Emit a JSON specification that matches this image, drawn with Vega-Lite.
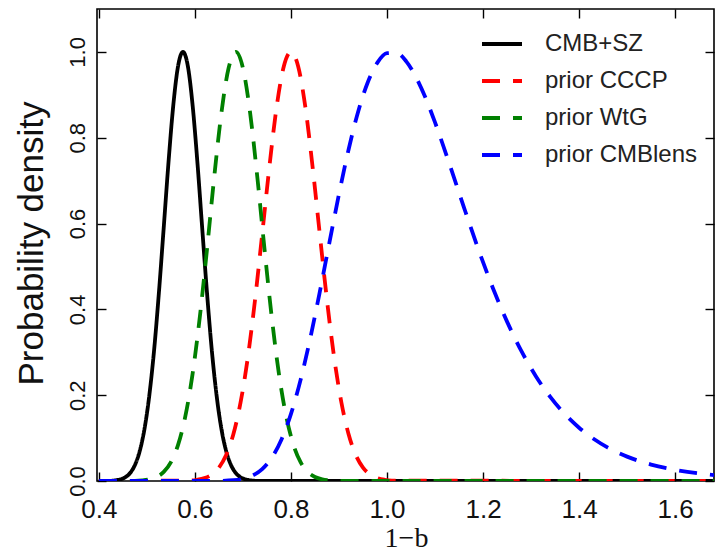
{
  "$schema": "https://vega.github.io/schema/vega-lite/v6.json",
  "width": 617,
  "height": 472,
  "autosize": {"type": "none"},
  "padding": {"left": 97, "top": 9, "right": 1, "bottom": 71},
  "background": "white",
  "config": {
    "view": {"stroke": "black", "strokeWidth": 1.6},
    "font": "Liberation Sans",
    "axis": {"domain": false, "grid": false, "tickColor": "black", "tickWidth": 1.4, "tickSize": -9, "labelColor": "#111111", "titleColor": "#111111"}
  },
  "data": {"values": [
    {"series": "CMB+SZ", "x": 0.40, "p": 0},
    {"series": "CMB+SZ", "x": 0.42, "p": 0.0003},
    {"series": "CMB+SZ", "x": 0.435, "p": 0.0016},
    {"series": "CMB+SZ", "x": 0.445, "p": 0.0039},
    {"series": "CMB+SZ", "x": 0.455, "p": 0.0088},
    {"series": "CMB+SZ", "x": 0.465, "p": 0.0187},
    {"series": "CMB+SZ", "x": 0.475, "p": 0.0374},
    {"series": "CMB+SZ", "x": 0.485, "p": 0.0698},
    {"series": "CMB+SZ", "x": 0.495, "p": 0.122},
    {"series": "CMB+SZ", "x": 0.505, "p": 0.200},
    {"series": "CMB+SZ", "x": 0.515, "p": 0.306},
    {"series": "CMB+SZ", "x": 0.525, "p": 0.440},
    {"series": "CMB+SZ", "x": 0.535, "p": 0.591},
    {"series": "CMB+SZ", "x": 0.545, "p": 0.744},
    {"series": "CMB+SZ", "x": 0.555, "p": 0.877},
    {"series": "CMB+SZ", "x": 0.565, "p": 0.968},
    {"series": "CMB+SZ", "x": 0.575, "p": 1.0},
    {"series": "CMB+SZ", "x": 0.585, "p": 0.968},
    {"series": "CMB+SZ", "x": 0.595, "p": 0.877},
    {"series": "CMB+SZ", "x": 0.605, "p": 0.744},
    {"series": "CMB+SZ", "x": 0.615, "p": 0.591},
    {"series": "CMB+SZ", "x": 0.625, "p": 0.440},
    {"series": "CMB+SZ", "x": 0.635, "p": 0.306},
    {"series": "CMB+SZ", "x": 0.645, "p": 0.200},
    {"series": "CMB+SZ", "x": 0.655, "p": 0.122},
    {"series": "CMB+SZ", "x": 0.665, "p": 0.0698},
    {"series": "CMB+SZ", "x": 0.675, "p": 0.0374},
    {"series": "CMB+SZ", "x": 0.685, "p": 0.0187},
    {"series": "CMB+SZ", "x": 0.695, "p": 0.0088},
    {"series": "CMB+SZ", "x": 0.705, "p": 0.0039},
    {"series": "CMB+SZ", "x": 0.715, "p": 0.0016},
    {"series": "CMB+SZ", "x": 0.73, "p": 0.0003},
    {"series": "CMB+SZ", "x": 1.70, "p": 0},

    {"series": "prior CCCP", "x": 0.40, "p": 0},
    {"series": "prior CCCP", "x": 0.59, "p": 0.0011},
    {"series": "prior CCCP", "x": 0.605, "p": 0.0029},
    {"series": "prior CCCP", "x": 0.62, "p": 0.0068},
    {"series": "prior CCCP", "x": 0.635, "p": 0.0151},
    {"series": "prior CCCP", "x": 0.65, "p": 0.0313},
    {"series": "prior CCCP", "x": 0.665, "p": 0.0605},
    {"series": "prior CCCP", "x": 0.68, "p": 0.109},
    {"series": "prior CCCP", "x": 0.695, "p": 0.183},
    {"series": "prior CCCP", "x": 0.71, "p": 0.287},
    {"series": "prior CCCP", "x": 0.725, "p": 0.421},
    {"series": "prior CCCP", "x": 0.74, "p": 0.575},
    {"series": "prior CCCP", "x": 0.755, "p": 0.732},
    {"series": "prior CCCP", "x": 0.77, "p": 0.871},
    {"series": "prior CCCP", "x": 0.785, "p": 0.966},
    {"series": "prior CCCP", "x": 0.80, "p": 1.0},
    {"series": "prior CCCP", "x": 0.815, "p": 0.966},
    {"series": "prior CCCP", "x": 0.83, "p": 0.871},
    {"series": "prior CCCP", "x": 0.845, "p": 0.732},
    {"series": "prior CCCP", "x": 0.86, "p": 0.575},
    {"series": "prior CCCP", "x": 0.875, "p": 0.421},
    {"series": "prior CCCP", "x": 0.89, "p": 0.287},
    {"series": "prior CCCP", "x": 0.905, "p": 0.183},
    {"series": "prior CCCP", "x": 0.92, "p": 0.109},
    {"series": "prior CCCP", "x": 0.935, "p": 0.0605},
    {"series": "prior CCCP", "x": 0.95, "p": 0.0313},
    {"series": "prior CCCP", "x": 0.965, "p": 0.0151},
    {"series": "prior CCCP", "x": 0.98, "p": 0.0068},
    {"series": "prior CCCP", "x": 0.995, "p": 0.0029},
    {"series": "prior CCCP", "x": 1.01, "p": 0.0011},
    {"series": "prior CCCP", "x": 1.70, "p": 0},

    {"series": "prior WtG", "x": 0.40, "p": 0},
    {"series": "prior WtG", "x": 0.475, "p": 0.0005},
    {"series": "prior WtG", "x": 0.49, "p": 0.0015},
    {"series": "prior WtG", "x": 0.505, "p": 0.0039},
    {"series": "prior WtG", "x": 0.52, "p": 0.0094},
    {"series": "prior WtG", "x": 0.535, "p": 0.0211},
    {"series": "prior WtG", "x": 0.55, "p": 0.0439},
    {"series": "prior WtG", "x": 0.565, "p": 0.0847},
    {"series": "prior WtG", "x": 0.58, "p": 0.151},
    {"series": "prior WtG", "x": 0.595, "p": 0.249},
    {"series": "prior WtG", "x": 0.61, "p": 0.381},
    {"series": "prior WtG", "x": 0.625, "p": 0.539},
    {"series": "prior WtG", "x": 0.64, "p": 0.707},
    {"series": "prior WtG", "x": 0.655, "p": 0.857},
    {"series": "prior WtG", "x": 0.67, "p": 0.962},
    {"series": "prior WtG", "x": 0.685, "p": 1.0},
    {"series": "prior WtG", "x": 0.70, "p": 0.962},
    {"series": "prior WtG", "x": 0.715, "p": 0.857},
    {"series": "prior WtG", "x": 0.73, "p": 0.707},
    {"series": "prior WtG", "x": 0.745, "p": 0.539},
    {"series": "prior WtG", "x": 0.76, "p": 0.381},
    {"series": "prior WtG", "x": 0.775, "p": 0.249},
    {"series": "prior WtG", "x": 0.79, "p": 0.151},
    {"series": "prior WtG", "x": 0.805, "p": 0.0847},
    {"series": "prior WtG", "x": 0.82, "p": 0.0439},
    {"series": "prior WtG", "x": 0.835, "p": 0.0211},
    {"series": "prior WtG", "x": 0.85, "p": 0.0094},
    {"series": "prior WtG", "x": 0.865, "p": 0.0039},
    {"series": "prior WtG", "x": 0.88, "p": 0.0015},
    {"series": "prior WtG", "x": 0.895, "p": 0.0005},
    {"series": "prior WtG", "x": 1.70, "p": 0},

    {"series": "prior CMBlens", "x": 0.40, "p": 0},
    {"series": "prior CMBlens", "x": 0.62, "p": 0.0},
    {"series": "prior CMBlens", "x": 0.65, "p": 0.0003},
    {"series": "prior CMBlens", "x": 0.68, "p": 0.0018},
    {"series": "prior CMBlens", "x": 0.70, "p": 0.0051},
    {"series": "prior CMBlens", "x": 0.72, "p": 0.0127},
    {"series": "prior CMBlens", "x": 0.74, "p": 0.0278},
    {"series": "prior CMBlens", "x": 0.76, "p": 0.0544},
    {"series": "prior CMBlens", "x": 0.78, "p": 0.0962},
    {"series": "prior CMBlens", "x": 0.80, "p": 0.1565},
    {"series": "prior CMBlens", "x": 0.82, "p": 0.2357},
    {"series": "prior CMBlens", "x": 0.84, "p": 0.332},
    {"series": "prior CMBlens", "x": 0.86, "p": 0.4408},
    {"series": "prior CMBlens", "x": 0.88, "p": 0.5554},
    {"series": "prior CMBlens", "x": 0.90, "p": 0.6687},
    {"series": "prior CMBlens", "x": 0.92, "p": 0.7725},
    {"series": "prior CMBlens", "x": 0.94, "p": 0.8612},
    {"series": "prior CMBlens", "x": 0.96, "p": 0.9293},
    {"series": "prior CMBlens", "x": 0.98, "p": 0.975},
    {"series": "prior CMBlens", "x": 1.00, "p": 0.997},
    {"series": "prior CMBlens", "x": 1.02, "p": 0.9975},
    {"series": "prior CMBlens", "x": 1.04, "p": 0.978},
    {"series": "prior CMBlens", "x": 1.06, "p": 0.942},
    {"series": "prior CMBlens", "x": 1.08, "p": 0.8935},
    {"series": "prior CMBlens", "x": 1.10, "p": 0.8356},
    {"series": "prior CMBlens", "x": 1.13, "p": 0.7388},
    {"series": "prior CMBlens", "x": 1.16, "p": 0.6383},
    {"series": "prior CMBlens", "x": 1.19, "p": 0.5409},
    {"series": "prior CMBlens", "x": 1.22, "p": 0.4511},
    {"series": "prior CMBlens", "x": 1.25, "p": 0.3714},
    {"series": "prior CMBlens", "x": 1.28, "p": 0.3026},
    {"series": "prior CMBlens", "x": 1.31, "p": 0.2443},
    {"series": "prior CMBlens", "x": 1.34, "p": 0.196},
    {"series": "prior CMBlens", "x": 1.37, "p": 0.1563},
    {"series": "prior CMBlens", "x": 1.40, "p": 0.1242},
    {"series": "prior CMBlens", "x": 1.43, "p": 0.0984},
    {"series": "prior CMBlens", "x": 1.46, "p": 0.0778},
    {"series": "prior CMBlens", "x": 1.50, "p": 0.0568},
    {"series": "prior CMBlens", "x": 1.55, "p": 0.0383},
    {"series": "prior CMBlens", "x": 1.60, "p": 0.0259},
    {"series": "prior CMBlens", "x": 1.65, "p": 0.0175},
    {"series": "prior CMBlens", "x": 1.70, "p": 0.0119}
  ]},
  "layer": [
    {
      "mark": {"type": "line", "interpolate": "monotone", "clip": true, "strokeWidth": 3.8},
      "encoding": {
        "x": {"field": "x", "type": "quantitative",
              "scale": {"domain": [0.396, 1.681], "nice": false, "zero": false},
              "axis": {"orient": "bottom", "values": [0.4, 0.6, 0.8, 1.0, 1.2, 1.4, 1.6], "format": ".1f",
                       "labelFontSize": 26, "labelPadding": 24, "labelBaseline": "top",
                       "title": "1−b", "titleFont": "Liberation Serif", "titleFontSize": 28, "titleFontWeight": "normal",
                       "titleBaseline": "alphabetic", "titleY": 65, "titleX": 309}},
        "y": {"field": "p", "type": "quantitative",
              "scale": {"domain": [0, 1.1], "nice": false},
              "axis": {"orient": "left", "values": [0, 0.2, 0.4, 0.6, 0.8, 1.0], "format": ".1f",
                       "labelFontSize": 22, "labelAngle": -90, "labelAlign": "center", "labelBaseline": "alphabetic", "labelPadding": 22,
                       "title": "Probability density", "titleFontSize": 35, "titleFontWeight": "normal",
                       "titleAngle": -90, "titleAlign": "center", "titleBaseline": "alphabetic", "titleX": -55, "titleY": 234}},
        "color": {"field": "series", "type": "nominal",
                  "scale": {"domain": ["CMB+SZ", "prior CCCP", "prior WtG", "prior CMBlens"], "range": ["#000000", "#ff0000", "#008000", "#0000ff"]},
                  "legend": {"title": null, "orient": "none", "legendX": 383, "legendY": 13, "padding": 0,
                             "labelFontSize": 24, "labelColor": "#222222", "labelOffset": 21, "rowPadding": 3,
                             "symbolType": "stroke", "symbolSize": 1600, "symbolStrokeWidth": 4}},
        "strokeDash": {"field": "series", "type": "nominal",
                       "scale": {"domain": ["CMB+SZ", "prior CCCP", "prior WtG", "prior CMBlens"], "range": [[1, 0], [18, 13], [18, 13], [18, 13]]},
                       "legend": {"title": null, "orient": "none", "legendX": 383, "legendY": 13, "padding": 0,
                             "labelFontSize": 24, "labelColor": "#222222", "labelOffset": 21, "rowPadding": 3,
                             "symbolType": "stroke", "symbolSize": 1600, "symbolStrokeWidth": 4}}
      }
    },
    {
      "mark": {"type": "point", "opacity": 0, "size": 0},
      "encoding": {
        "x": {"field": "x", "type": "quantitative",
              "axis": {"orient": "top", "values": [0.4, 0.6, 0.8, 1.0, 1.2, 1.4, 1.6], "labels": false, "title": null}},
        "y": {"field": "p", "type": "quantitative",
              "axis": {"orient": "right", "values": [0, 0.2, 0.4, 0.6, 0.8, 1.0], "labels": false, "title": null}}
      }
    }
  ],
  "resolve": {"axis": {"x": "independent", "y": "independent"}}
}
